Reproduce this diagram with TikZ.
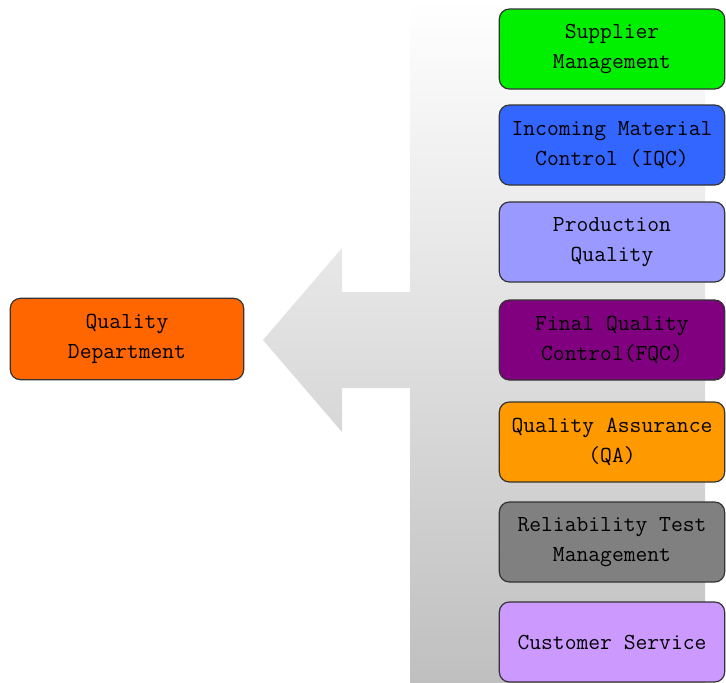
\documentclass[tikz,border=0pt]{standalone}
\usepackage{fontspec}
\definecolor{cgreen}{RGB}{0,240,0}
\definecolor{cblue}{RGB}{51,102,255}
\definecolor{clav}{RGB}{153,153,255}
\definecolor{cpurple}{RGB}{128,0,128}
\definecolor{corange}{RGB}{255,153,0}
\definecolor{cgray}{RGB}{128,128,128}
\definecolor{clpurple}{RGB}{204,153,255}
\definecolor{cdept}{RGB}{255,102,0}
\begin{document}
\begin{tikzpicture}[x=0.75pt,y=-0.75pt,
  box/.style={draw=black!80, line width=0.9pt, rounded corners=7.5pt,
    minimum width=169pt, minimum height=60pt, inner sep=0pt, align=center,
    font=\ttfamily\fontsize{17.2}{22.5}\selectfont, text=black}]
\useasboundingbox (0,0) rectangle (726,683);
\shade[top color=white, bottom color=black!25]
  (410,0) -- (705,0) -- (705,683) -- (410,683) -- (410,388) -- (342,388)
  -- (342,432) -- (263,340) -- (342,248) -- (342,292) -- (410,292) -- cycle;
\node[box, fill=cgreen]   (sup) at (612,49)  {Supplier\\Management};
\node[box, fill=cblue]    (iqc) at (612,145) {Incoming Material\\Control (IQC)};
\node[box, fill=clav]     (pq)  at (612,242) {Production\\Quality};
\node[box, fill=cpurple]  (fqc) at (612,340) {Final Quality\\Control(FQC)};
\node[box, fill=corange]  (qa)  at (612,442) {Quality Assurance\\(QA)};
\node[box, fill=cgray]    (rel) at (612,542) {Reliability Test\\Management};
\node[box, fill=clpurple] (cs)  at (612,642) {Customer Service};
\node[box, fill=cdept, minimum width=175pt, minimum height=61pt] (qd) at (127,339) {Quality\\Department};
\end{tikzpicture}
\end{document}
